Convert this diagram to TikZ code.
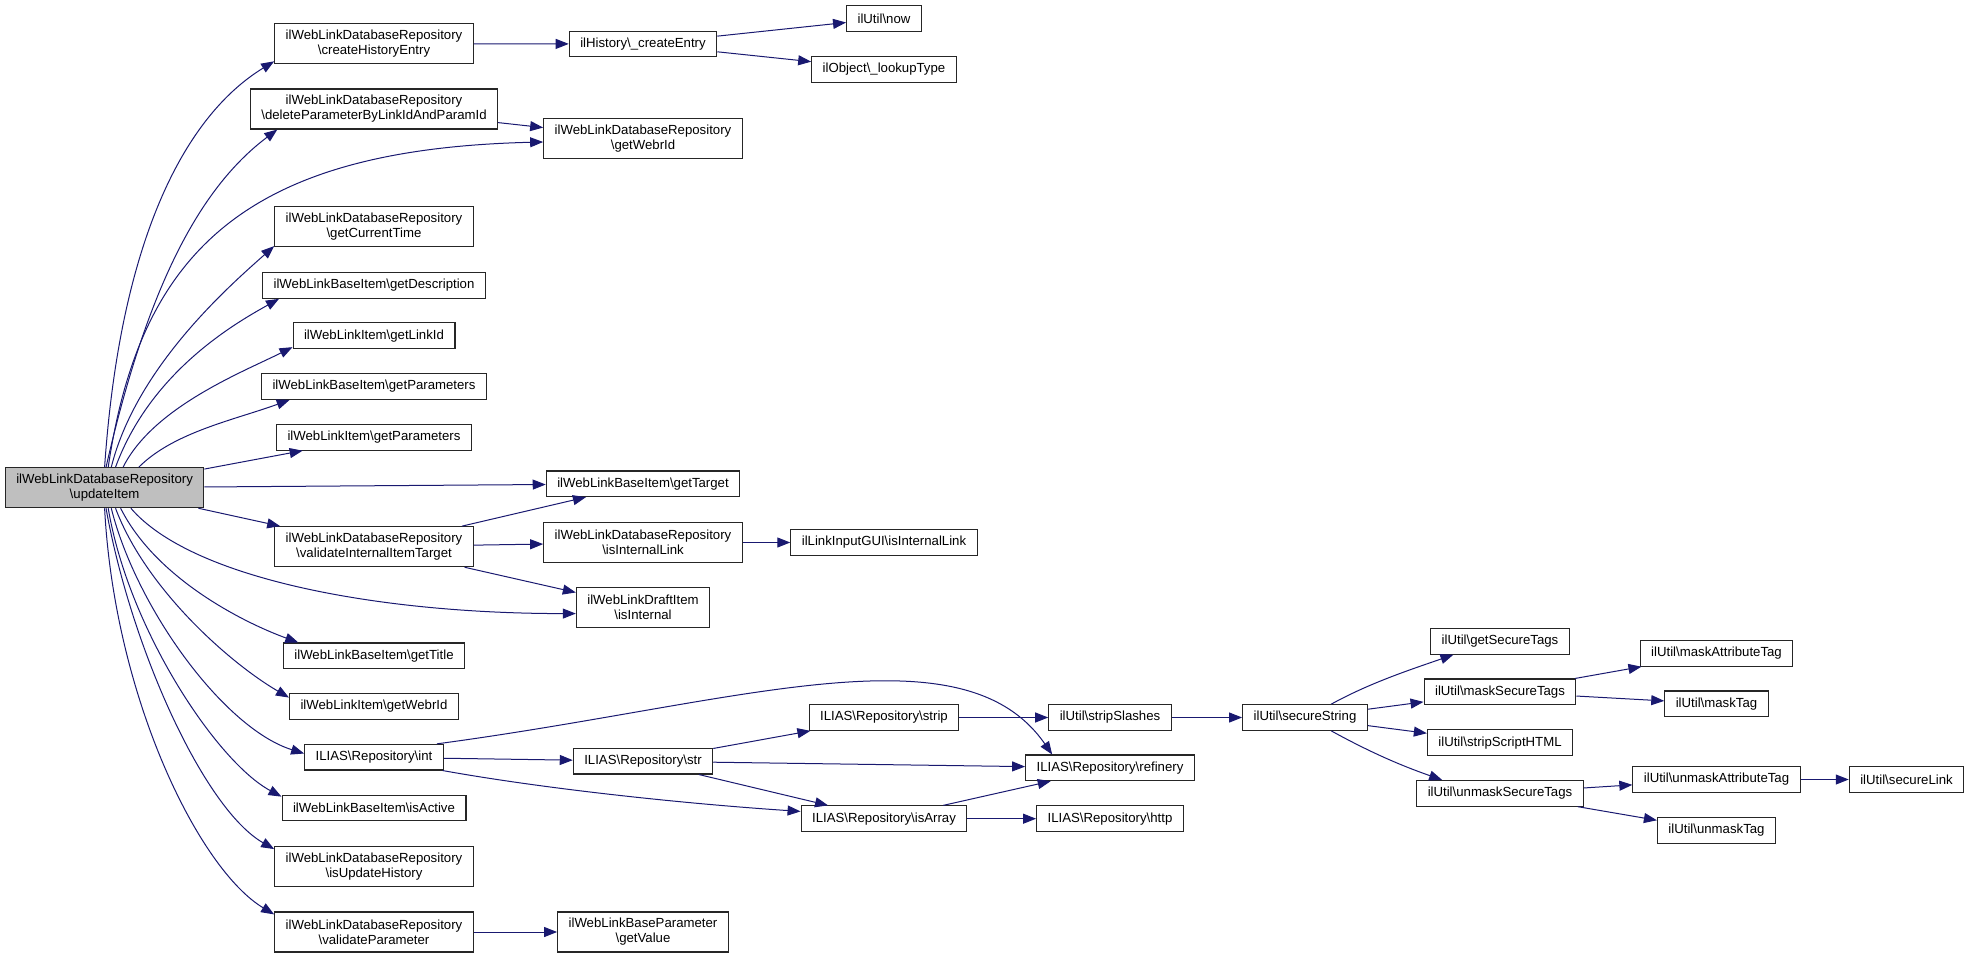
\documentclass[tikz,border=0pt]{standalone}
\usepackage{fontspec}
\setmainfont{Liberation Sans}
\usetikzlibrary{arrows.meta}
\definecolor{edgeblue}{RGB}{25,25,112}
\definecolor{nodegray}{RGB}{191,191,191}
\newcommand{\bsl}{\textbackslash}

\begin{document}
\begin{tikzpicture}[x=0.5pt,y=-0.5pt,
	fn/.style={draw=black!85, line width=0.55pt, inner xsep=5.5pt, inner ysep=0pt,
		minimum height=12.8pt, font=\fontsize{6.6}{7.5}\selectfont, align=center},
	fn2/.style={fn, minimum height=20pt},
	call/.style={draw=edgeblue, line width=0.5pt, -{Triangle[length=6.5pt,width=5pt]}}]
	\useasboundingbox (0,0) rectangle (1969,958);

	% caller
	\node[fn2, fill=nodegray] (upd) at (104.6,487.7) {ilWebLinkDatabaseRepository\\\bsl updateItem};

	% first column of callees
	\foreach \nm/\y/\txt in {che/43.7/{ilWebLinkDatabaseRepository\\\bsl createHistoryEntry},
		dpl/109/{ilWebLinkDatabaseRepository\\\bsl deleteParameterByLinkIdAndParamId},
		gct/226.7/{ilWebLinkDatabaseRepository\\\bsl getCurrentTime},
		vit/546.7/{ilWebLinkDatabaseRepository\\\bsl validateInternalItemTarget},
		iuh/866.7/{ilWebLinkDatabaseRepository\\\bsl isUpdateHistory},
		vpa/932/{ilWebLinkDatabaseRepository\\\bsl validateParameter}}
		\node[fn2] (\nm) at (374,\y) {\txt};
	\foreach \nm/\y/\txt in {gds/285.5/{ilWebLinkBaseItem\bsl getDescription},
		gli/335.7/{ilWebLinkItem\bsl getLinkId},
		gpb/386.5/{ilWebLinkBaseItem\bsl getParameters},
		gpi/437.3/{ilWebLinkItem\bsl getParameters},
		gtt/655.8/{ilWebLinkBaseItem\bsl getTitle},
		gwi/706.5/{ilWebLinkItem\bsl getWebrId},
		int/757.2/{ILIAS\bsl Repository\bsl int},
		iac/808/{ilWebLinkBaseItem\bsl isActive}}
		\node[fn] (\nm) at (374,\y) {\txt};

	% second column
	\node[fn] (hce) at (643,44) {ilHistory\bsl\_createEntry};
	\node[fn2] (gwr) at (643,138.5) {ilWebLinkDatabaseRepository\\\bsl getWebrId};
	\node[fn] (gtg) at (643,483.8) {ilWebLinkBaseItem\bsl getTarget};
	\node[fn2] (iil) at (643,542.5) {ilWebLinkDatabaseRepository\\\bsl isInternalLink};
	\node[fn2] (isi) at (643,607.7) {ilWebLinkDraftItem\\\bsl isInternal};
	\node[fn] (str) at (643,761.2) {ILIAS\bsl Repository\bsl str};
	\node[fn2] (gvl) at (643,932) {ilWebLinkBaseParameter\\\bsl getValue};

	% third and fourth column
	\node[fn] (now) at (884,18.5) {ilUtil\bsl now};
	\node[fn] (lut) at (884,69.3) {ilObject\bsl\_lookupType};
	\node[fn] (gui) at (884,542.5) {ilLinkInputGUI\bsl isInternalLink};
	\node[fn] (stp) at (884,717.5) {ILIAS\bsl Repository\bsl strip};
	\node[fn] (isa) at (884,818.7) {ILIAS\bsl Repository\bsl isArray};
	\node[fn] (ssl) at (1110,717.5) {ilUtil\bsl stripSlashes};
	\node[fn] (ref) at (1110,767.8) {ILIAS\bsl Repository\bsl refinery};
	\node[fn] (htp) at (1110,818.7) {ILIAS\bsl Repository\bsl http};

	% ilUtil part
	\node[fn] (sst) at (1305,717.5) {ilUtil\bsl secureString};
	\node[fn] (gst) at (1500,641.3) {ilUtil\bsl getSecureTags};
	\node[fn] (mst) at (1500,691.8) {ilUtil\bsl maskSecureTags};
	\node[fn] (ssh) at (1500,742.7) {ilUtil\bsl stripScriptHTML};
	\node[fn] (ust) at (1500,793.3) {ilUtil\bsl unmaskSecureTags};
	\node[fn] (mat) at (1716.5,653.3) {ilUtil\bsl maskAttributeTag};
	\node[fn] (mtg) at (1716.5,703.8) {ilUtil\bsl maskTag};
	\node[fn] (uat) at (1716.5,779.5) {ilUtil\bsl unmaskAttributeTag};
	\node[fn] (utg) at (1716.5,830.5) {ilUtil\bsl unmaskTag};
	\node[fn] (slk) at (1906.5,779.5) {ilUtil\bsl secureLink};

	% straight calls
	\foreach \a/\b in {che/hce, hce/now, hce/lut, dpl/gwr, upd/gpi, upd/gtg, upd/vit,
		vit/gtg, vit/iil, vit/isi, iil/gui, int/str, str/stp, str/ref, str/isa,
		stp/ssl, ssl/sst, isa/ref, isa/htp, sst/mst, sst/ssh, mst/mat, mst/mtg,
		ust/uat, ust/utg, uat/slk, vpa/gvl}
		\draw[call] (\a) -- (\b);

	% fan out of updateItem, upwards
	\draw[call] (upd.90) .. controls +(15,-220) and +(-93,57) .. (che.190);
	\draw[call] (upd.86) .. controls +(40,-175) and +(-80,60) .. (dpl.192);
	\draw[call] (upd.80) .. controls +(32,-218) and +(-294,7) .. (gwr.182);
	\draw[call] (upd.72) .. controls +(25,-100) and +(-45,40) .. (gct.191);
	\draw[call] (upd.62) .. controls +(35,-95) and +(-45,25) .. (gds.188);
	\draw[call] (upd.48) .. controls +(30,-60) and +(-50,25) .. (gli.188);
	\draw[call] (upd.31) .. controls +(35,-35) and +(-55,20) .. (gpb.189);
	% and downwards
	\draw[call] (upd.-38) .. controls +(60,70) and +(-200,0) .. (isi.185);
	\draw[call] (upd.-52) .. controls +(35,70) and +(-55,-20) .. (gtt.170);
	\draw[call] (upd.-62) .. controls +(30,80) and +(-60,-35) .. (gwi.174);
	\draw[call] (upd.-72) .. controls +(25,100) and +(-80,-25) .. (int.177);
	\draw[call] (upd.-80) .. controls +(20,120) and +(-65,-35) .. (iac.173);
	\draw[call] (upd.-86) .. controls +(25,140) and +(-70,-40) .. (iuh.170);
	\draw[call] (upd.-90) .. controls +(10,190) and +(-75,-45) .. (vpa.170);

	% bent calls further right
	\draw[call] (int.12) .. controls +(300,-40) and +(-90,-130) .. (ref.167);
	\draw[call] (int.-11) .. controls +(100,18) and +(-120,-8) .. (isa.175);
	\draw[call] (sst.27) .. controls +(40,-22) and +(-40,14) .. (gst.196);
	\draw[call] (sst.-27) .. controls +(40,22) and +(-40,-14) .. (ust.167);
\end{tikzpicture}
\end{document}
